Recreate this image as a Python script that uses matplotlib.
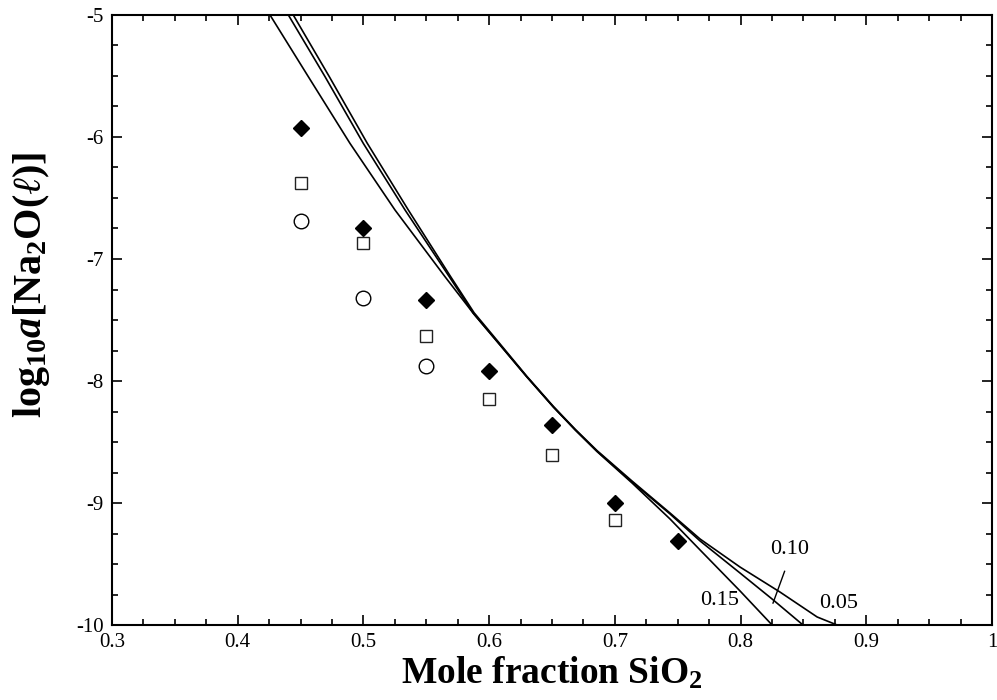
"""
log10 a[Na2O(l)] against mole fraction SiO2: measured points and three model curves
"""
import matplotlib
matplotlib.use('Agg')
import matplotlib.pyplot as plt
from matplotlib.ticker import MultipleLocator, FixedLocator

# ###
# Data
# ###
# measured points
diamond_x = [0.45, 0.50, 0.55, 0.60, 0.65, 0.70, 0.75]
diamond_y = [-5.93, -6.75, -7.34, -7.92, -8.36, -9.00, -9.31]
square_x  = [0.45, 0.50, 0.55, 0.60, 0.65, 0.70]
square_y  = [-6.38, -6.87, -7.63, -8.15, -8.61, -9.14]
circle_x  = [0.45, 0.50, 0.55]
circle_y  = [-6.69, -7.32, -7.88]

# model curves (labelled 0.15, 0.10, 0.05)
curve_015_x = [0.4257, 0.4562, 0.4893, 0.5251, 0.5649, 0.5874, 0.6087, 0.6299, 0.6511,
               0.6686, 0.6858, 0.7137, 0.7439, 0.7678, 0.7996, 0.8251]
curve_015_y = [-5.000, -5.506, -6.052, -6.598, -7.145, -7.445, -7.705, -7.965, -8.213,
               -8.402, -8.578, -8.836, -9.131, -9.385, -9.721, -10.000]
curve_010_x = [0.4403, 0.4695, 0.4999, 0.5331, 0.5683, 0.5874, 0.6087, 0.6299, 0.6511,
               0.6686, 0.6858, 0.7137, 0.7439, 0.7678, 0.7996, 0.8251, 0.8497]
curve_010_y = [-5.000, -5.506, -6.052, -6.598, -7.145, -7.445, -7.705, -7.965, -8.213,
               -8.402, -8.575, -8.828, -9.090, -9.311, -9.574, -9.787, -10.000]
curve_005_x = [0.4442, 0.4729, 0.5031, 0.5357, 0.5694, 0.5880, 0.6090, 0.6299, 0.6511,
               0.6686, 0.6858, 0.7137, 0.7439, 0.7678, 0.7996, 0.8314, 0.8609, 0.8768]
curve_005_y = [-5.000, -5.506, -6.052, -6.598, -7.145, -7.440, -7.700, -7.960, -8.208,
               -8.397, -8.570, -8.820, -9.082, -9.295, -9.525, -9.730, -9.934, -10.000]

curve_labels = ['0.15', '0.10', '0.05']
x_ticks      = [0.3, 0.4, 0.5, 0.6, 0.7, 0.8, 0.9, 1.0]
x_tick_text  = ['0.3', '0.4', '0.5', '0.6', '0.7', '0.8', '0.9', '1']
y_ticks      = [-10, -9, -8, -7, -6, -5]

# ###
# Plot settings
# ###
plt.rcParams['font.family']        = ['Liberation Serif', 'DejaVu Serif']
plt.rcParams['axes.unicode_minus'] = False
plt.rcParams['mathtext.fontset']   = 'custom'
plt.rcParams['mathtext.rm']        = 'Liberation Serif'
plt.rcParams['mathtext.it']        = 'Liberation Serif:italic'
plt.rcParams['mathtext.bf']        = 'Liberation Serif:bold'
plt.rcParams['mathtext.bfit']      = 'Liberation Serif:bold:italic'

fig = plt.figure(figsize=(9.97, 7.0), dpi=100, facecolor='w')
ax  = fig.add_axes([0.1123, 0.1071, 0.8827, 0.8715])

# curves
for cx, cy in [(curve_015_x, curve_015_y), (curve_010_x, curve_010_y), (curve_005_x, curve_005_y)]:
    ax.plot(cx, cy, color='k', lw=1.2, solid_joinstyle='round')

# points
ax.plot(diamond_x, diamond_y, ls='none', marker='D', ms=8, mfc='k', mec='k')
ax.plot(square_x, square_y, ls='none', marker='s', ms=9, mfc='w', mec='#222222', mew=1.0)
ax.plot(circle_x, circle_y, ls='none', marker='o', ms=10.5, mfc='w', mec='k', mew=1.0)

# curve labels
ax.text(0.7837, -9.80, curve_labels[0], fontsize=16, ha='center', va='center')
ax.text(0.8394, -9.38, curve_labels[1], fontsize=16, ha='center', va='center')
ax.text(0.8776, -9.82, curve_labels[2], fontsize=16, ha='center', va='center')
ax.plot([0.8350, 0.8258], [-9.56, -9.82], color='k', lw=1.0)

# axes
ax.set_xlim(0.3, 1.0)
ax.set_ylim(-10, -5)
ax.xaxis.set_major_locator(FixedLocator(x_ticks))
ax.set_xticklabels(x_tick_text)
ax.xaxis.set_minor_locator(MultipleLocator(0.025))
ax.yaxis.set_major_locator(FixedLocator(y_ticks))
ax.yaxis.set_minor_locator(MultipleLocator(0.25))
ax.tick_params(which='both', direction='in', top=True, right=True, labelsize=15, width=1.2)
ax.tick_params(which='major', length=7, pad=6)
ax.tick_params(which='minor', length=4)
for s in ax.spines.values():
    s.set_linewidth(1.5)

ax.set_xlabel(r'Mole fraction SiO$_\mathbf{2}$', fontsize=27, fontweight='bold', labelpad=2)
ax.set_ylabel(r'$\mathbf{log}_\mathbf{10}\mathbfit{a}\mathbf{[Na}_\mathbf{2}\mathbf{O(}\ell\mathbf{)]}$',
              fontsize=29)
ax.yaxis.set_label_coords(-0.068, 0.557)

plt.savefig('out.png', dpi=100)
plt.close(fig)
